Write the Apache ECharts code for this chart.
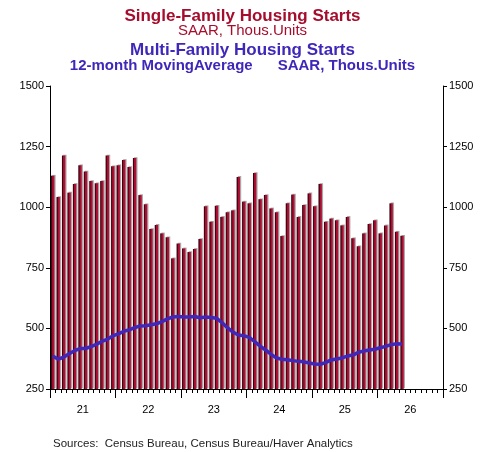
<!DOCTYPE html>
<html>
<head>
<meta charset="utf-8">
<script src="https://cdn.jsdelivr.net/npm/echarts@6/dist/echarts.min.js"></script>
<style>
html,body{margin:0;padding:0;background:#fff;}
#chart{width:485px;height:452px;}
</style>
</head>
<body>
<div id="chart"></div>
<script>
// Monthly categories Jan 2021 .. Dec 2026
const years = ['21','22','23','24','25','26'];
const months = [];
years.forEach(y => { for (let m = 1; m <= 12; m++) months.push(y + '-' + m); });

// Single-family housing starts, SAAR thous. units (Jan 2021 ..)
const singleFamily = [
  1130,1042,1213,1060,1096,1173,1147,1108,1099,1108,1213,1169,
  1173,1195,1166,1203,1050,1012,910,927,892,876,789,850,
  830,815,828,869,1004,940,1006,960,979,987,1125,1023,
  1016,1141,1033,1050,995,979,881,1016,1052,960,1009,1057,
  1004,1096,940,953,946,925,960,872,839,892,931,946,
  892,925,1016,899,882
];

// Multi-family housing starts, 12-month moving average, SAAR thous. units
const multiFamilyMA = [
  386,373,381,395,408,417,417,425,434,447,455,469,
  477,488,494,503,510,511,515,519,528,539,547,549,
  547,547,549,544,547,545,542,524,503,485,473,470,
  463,445,427,411,393,378,373,371,367,364,362,357,
  353,352,359,370,374,378,386,390,401,407,411,414,
  420,426,433,437,436
];

const yTicks = [250, 500, 750, 1000, 1250, 1500];

const RED = '#A50D2D';
const BLUE = '#3F27BA';
const FONT = '"Liberation Sans", Arial, sans-serif';

const chart = echarts.init(document.getElementById('chart'), null, {renderer: 'canvas'});

const yAxisCommon = {
  type: 'value',
  min: yTicks[0],
  max: yTicks[yTicks.length - 1],
  interval: 250,
  axisLine: {show: true, lineStyle: {color: '#000', width: 1}},
  axisTick: {show: true, length: 4, lineStyle: {color: '#000'}},
  splitLine: {show: false},
  axisLabel: {color: '#000', fontSize: 11, fontFamily: FONT, margin: 6, formatter: (v) => String(v)}
};

chart.setOption({
  animation: false,
  backgroundColor: '#fff',
  grid: {left: 50, right: 42, top: 86, bottom: 63, containLabel: false},
  graphic: [
    {type: 'text', left: 'center', top: 8, style: {text: 'Single-Family Housing Starts', font: 'bold 17px ' + FONT, fill: RED}},
    {type: 'text', left: 'center', top: 23, style: {text: 'SAAR, Thous.Units', font: '15px ' + FONT, fill: RED}},
    {type: 'text', left: 'center', top: 42, style: {text: 'Multi-Family Housing Starts', font: 'bold 17px ' + FONT, fill: BLUE}},
    {type: 'text', left: 'center', top: 58, style: {text: '12-month MovingAverage      SAAR, Thous.Units', font: 'bold 15px ' + FONT, fill: BLUE}},
    {type: 'text', left: 53, top: 438, style: {text: 'Sources:  Census Bureau, Census Bureau/Haver Analytics', font: '11.5px ' + FONT, fill: '#222'}}
  ],
  xAxis: [
    {
      type: 'category',
      data: months,
      boundaryGap: true,
      axisLine: {show: true, lineStyle: {color: '#000', width: 1}},
      axisTick: {show: true, interval: 0, length: 4, lineStyle: {color: '#000'}},
      axisLabel: {
        interval: (i) => i % 12 === 6,
        formatter: (v) => v.split('-')[0],
        color: '#000', fontSize: 11, fontFamily: FONT, margin: 15,
        padding: [0, 5.4, 0, 0]
      },
      splitLine: {show: false}
    },
    {
      type: 'category',
      data: months,
      boundaryGap: true,
      position: 'bottom',
      axisLine: {show: false},
      axisTick: {show: true, interval: (i) => i % 12 === 0, length: 9, lineStyle: {color: '#000'}},
      axisLabel: {show: false},
      splitLine: {show: false}
    }
  ],
  yAxis: [
    Object.assign({}, yAxisCommon, {position: 'left'}),
    Object.assign({}, yAxisCommon, {position: 'right'})
  ],
  series: [
    {
      type: 'bar',
      xAxisIndex: 0,
      yAxisIndex: 0,
      data: singleFamily,
      barWidth: 3.4,
      itemStyle: {
        color: new echarts.graphic.LinearGradient(0, 0, 1, 0, [
          {offset: 0, color: '#1c0008'},
          {offset: 0.3, color: '#5a0016'},
          {offset: 0.45, color: RED},
          {offset: 1, color: '#B8123A'}
        ]),
        shadowColor: '#a8a8a8',
        shadowOffsetX: 1.2,
        shadowOffsetY: -0.8,
        shadowBlur: 0
      }
    },
    {
      type: 'line',
      xAxisIndex: 0,
      yAxisIndex: 0,
      data: multiFamilyMA,
      showSymbol: false,
      symbol: 'none',
      lineStyle: {color: BLUE, width: 3.5},
      z: 5
    }
  ]
});
</script>
</body>
</html>
